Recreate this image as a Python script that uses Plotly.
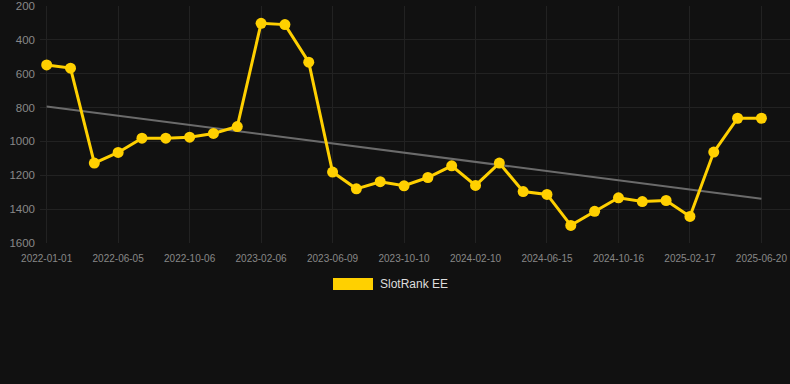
import plotly.graph_objects as go

tick_labels = ["2022-01-01", "2022-06-05", "2022-10-06", "2023-02-06", "2023-06-09",
               "2023-10-10", "2024-02-10", "2024-06-15", "2024-10-16", "2025-02-17",
               "2025-06-20"]
ranks = [548, 567, 1128, 1065, 981, 981, 975, 953, 912, 302, 310, 532, 1181, 1280,
         1238, 1262, 1213, 1144, 1260, 1128, 1296, 1313, 1496, 1413, 1333, 1355,
         1349, 1443, 1063, 863, 863]
trend_ends = [794, 1339]
y_ticks = [200, 400, 600, 800, 1000, 1200, 1400, 1600]
series_name = "SlotRank EE"

idx = list(range(len(ranks)))
tick_idx = idx[::3]

YELLOW = "#FFD000"

fig = go.Figure()
fig.add_trace(go.Scatter(x=[idx[0], idx[-1]], y=trend_ends, mode="lines",
                         line=dict(color="#6b6b6b", width=2), showlegend=False,
                         hoverinfo="skip"))
fig.add_trace(go.Scatter(x=idx, y=ranks, mode="lines+markers", name=series_name,
                         line=dict(color=YELLOW, width=3),
                         marker=dict(color=YELLOW, size=11), showlegend=False))

fig.update_layout(
    width=790, height=384,
    paper_bgcolor="#111111", plot_bgcolor="#111111",
    margin=dict(l=40, r=0, t=6, b=141),
    font=dict(family="Liberation Sans, Arial, sans-serif", color="#888888"),
    xaxis=dict(range=[-0.28, 31.2], tickvals=tick_idx, ticktext=tick_labels,
               showgrid=True, gridcolor="#222222", gridwidth=1, zeroline=False,
               showline=False, ticks="", tickfont=dict(size=10, color="#888888"),
               ticklabelstandoff=8, ticklabeloverflow="allow"),
    yaxis=dict(range=[1600, 200], tickvals=y_ticks, showgrid=True,
               gridcolor="#222222", zeroline=False, showline=False, ticks="",
               tickfont=dict(size=11.5, color="#888888"), ticklabelstandoff=4,
               ticklabeloverflow="allow"),
    showlegend=False,
)

# legend drawn as shape + text
fig.add_shape(type="rect", xref="paper", yref="paper",
              x0=(333 - 40) / 750, x1=(373 - 40) / 750,
              y0=(243 - 290) / 237, y1=(243 - 278) / 237,
              fillcolor=YELLOW, line=dict(width=0))
fig.add_annotation(xref="paper", yref="paper", x=(378 - 40) / 750, y=(243 - 284) / 237,
                   text=series_name, showarrow=False, xanchor="left", yanchor="middle",
                   font=dict(size=12, color="#dddddd"))

fig.write_html("out.html", config={"displayModeBar": False}, post_script=(
    "document.body.style.margin='0';"
    "document.body.style.background='#111111';"
    "document.documentElement.style.background='#111111';"))
